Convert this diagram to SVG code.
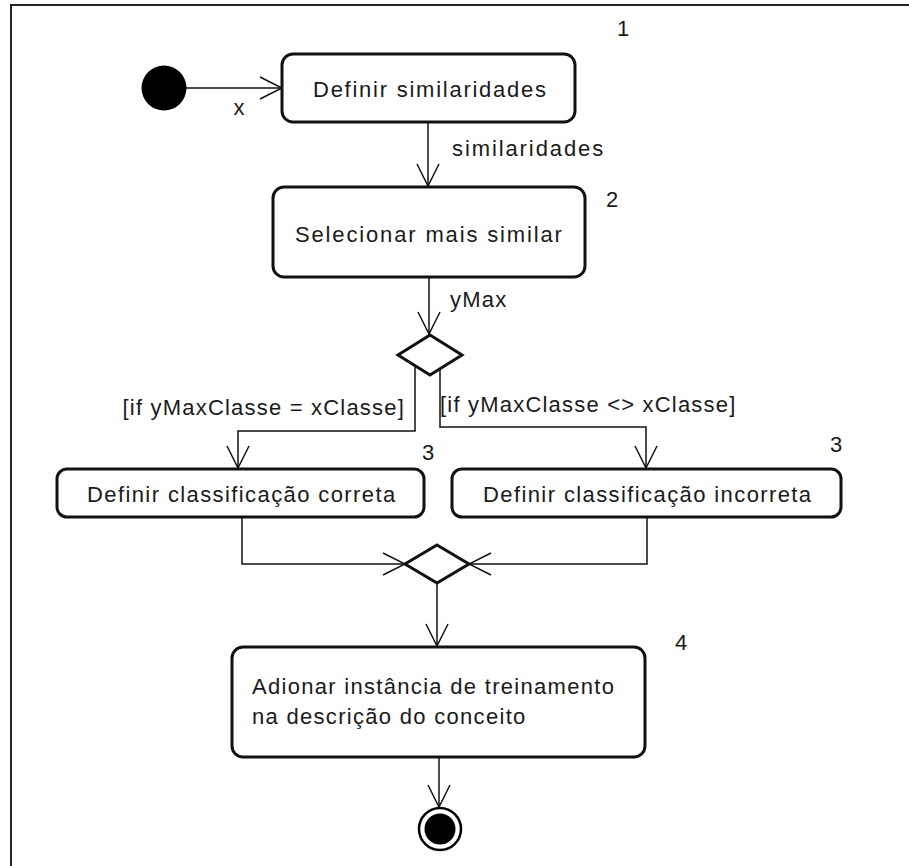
<svg xmlns="http://www.w3.org/2000/svg" width="909" height="866" viewBox="0 0 909 866">
  <defs>
    <marker id="open-arrow" viewBox="0 0 24 24" refX="23" refY="12" markerWidth="24" markerHeight="24" markerUnits="userSpaceOnUse" orient="auto">
      <path d="M1,1 L23,12 L1,23" fill="none" stroke="#111" stroke-width="1.5"/>
    </marker>
  </defs>
  <style>
    .frame { fill: none; stroke: #222; stroke-width: 2; }
    .action { fill: #fff; stroke: #111; stroke-width: 3; }
    .decision { fill: #fff; stroke: #111; stroke-width: 3; }
    .flow { fill: none; stroke: #111; stroke-width: 1.5; marker-end: url(#open-arrow); }
    text { font-family: "Liberation Sans", Arial, sans-serif; fill: #1a1a1a; font-size: 22px; }
  </style>

  <rect width="909" height="866" fill="#fff"/>
  <!-- diagram frame (open on the right and bottom) -->
  <path class="frame" d="M11,866 L11,5 L909,5"/>

  <!-- connectors -->
  <g id="connectors">
    <line class="flow" x1="186" y1="88" x2="282" y2="88"/>
    <line class="flow" x1="428" y1="122" x2="428" y2="186"/>
    <line class="flow" x1="429" y1="277" x2="429" y2="334"/>
    <polyline class="flow" points="415,366 415,431 238,431 238,468"/>
    <polyline class="flow" points="440,366 440,427 646,427 646,468"/>
    <polyline class="flow" points="242,517 242,564 405,564"/>
    <polyline class="flow" points="647,517 647,564 469,564"/>
    <line class="flow" x1="437" y1="584" x2="437" y2="646"/>
    <line class="flow" x1="439" y1="757" x2="439" y2="807"/>
    <text x="239" y="115" text-anchor="middle">x</text>
    <text x="452" y="156" letter-spacing="1.9">similaridades</text>
    <text x="450" y="307" letter-spacing="1.2">yMax</text>
    <text x="405" y="415" text-anchor="end" letter-spacing="1.2">[if yMaxClasse = xClasse]</text>
    <text x="440" y="412" letter-spacing="1.2">[if yMaxClasse &lt;&gt; xClasse]</text>
  </g>

  <g id="start">
    <circle cx="164" cy="88" r="22.5" fill="#000"/>
  </g>

  <g id="definir-similaridades">
    <rect class="action" x="282" y="54" width="293" height="68" rx="11"/>
    <text x="313" y="97" letter-spacing="1.75">Definir similaridades</text>
    <text x="617" y="36">1</text>
  </g>

  <g id="selecionar-mais-similar">
    <rect class="action" x="273" y="187" width="312" height="90" rx="11"/>
    <text x="295" y="242" letter-spacing="1.85">Selecionar mais similar</text>
    <text x="606" y="207">2</text>
  </g>

  <g id="decision">
    <polygon class="decision" points="430,335 462,355 430,375 398,355"/>
  </g>

  <g id="classificacao-correta">
    <rect class="action" x="57" y="469" width="367" height="48" rx="10"/>
    <text x="87" y="502" letter-spacing="1.4">Definir classificação correta</text>
    <text x="422" y="460">3</text>
  </g>

  <g id="classificacao-incorreta">
    <rect class="action" x="452" y="469" width="389" height="48" rx="10"/>
    <text x="483" y="502" letter-spacing="1.4">Definir classificação incorreta</text>
    <text x="830" y="452">3</text>
  </g>

  <g id="merge">
    <polygon class="decision" points="437,545 469,564 437,583 405,564"/>
  </g>

  <g id="adicionar-instancia">
    <rect class="action" x="232" y="647" width="413" height="110" rx="11"/>
    <text x="252" y="694" letter-spacing="1.3">Adionar instância de treinamento</text>
    <text x="252" y="724" letter-spacing="1.3">na descrição do conceito</text>
    <text x="675" y="650">4</text>
  </g>

  <g id="end">
    <circle cx="440" cy="829" r="21" fill="#fff" stroke="#000" stroke-width="2.5"/>
    <circle cx="440" cy="829" r="15.5" fill="#000"/>
  </g>
</svg>
